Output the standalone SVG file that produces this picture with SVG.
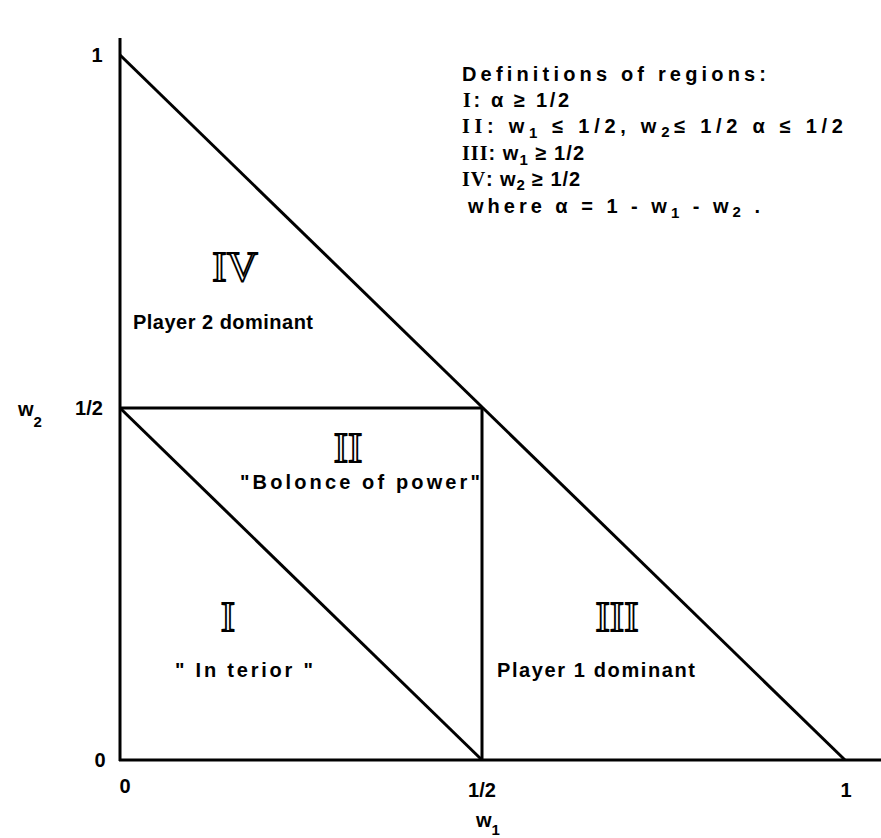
<svg xmlns="http://www.w3.org/2000/svg" width="881" height="838" viewBox="0 0 881 838">
<style>
.ln{stroke:#000;stroke-width:3;fill:none;stroke-linecap:butt}
.t{font-family:"Liberation Sans",Arial,sans-serif;font-weight:bold;font-size:20px;fill:#000}
.lg{font-family:"Liberation Sans",Arial,sans-serif;font-weight:bold;font-size:20px;fill:#000}
.rn{font-family:"Liberation Serif","Times New Roman",serif;font-weight:bold}
.big{font-family:"Liberation Serif","Times New Roman",serif;font-size:43px;fill:#fff;stroke:#000;stroke-width:1.8;text-anchor:middle}
.sub{font-size:15px}
</style>
<rect width="881" height="838" fill="#fff"/>
<g id="connectors">
<line class="ln" x1="120" y1="38" x2="120" y2="761"/>
<line class="ln" x1="119" y1="760" x2="881" y2="760"/>
<line class="ln" x1="120" y1="55" x2="845" y2="760"/>
<line class="ln" x1="120" y1="408" x2="482" y2="408"/>
<line class="ln" x1="482" y1="408" x2="482" y2="760"/>
<line class="ln" x1="120" y1="408" x2="482" y2="760"/>
</g>
<g id="axis-labels">
<text class="t" x="97" y="62" text-anchor="middle">1</text>
<text class="t" x="18" y="416">w<tspan class="sub" dy="11">2</tspan></text>
<text class="t" x="89" y="415" text-anchor="middle">1/2</text>
<text class="t" x="100" y="767" text-anchor="middle">0</text>
<text class="t" x="125" y="793" text-anchor="middle">0</text>
<text class="t" x="482" y="797" text-anchor="middle">1/2</text>
<text class="t" x="846" y="797" text-anchor="middle">1</text>
<text class="t" x="476" y="827">w<tspan class="sub" dy="8">1</tspan></text>
</g>
<g id="legend">
<text class="lg" x="462" y="81" textLength="304" lengthAdjust="spacing">Definitions of regions:</text>
<text class="lg" x="463" y="107" textLength="106" lengthAdjust="spacing"><tspan class="rn">I</tspan>:  α ≥ 1/2</text>
<text class="lg" x="462" y="133" textLength="381" lengthAdjust="spacing"><tspan class="rn">II</tspan>:  w<tspan class="sub" dy="5">1</tspan><tspan dy="-5"> ≤ 1/2, w</tspan><tspan class="sub" dy="4">2</tspan><tspan dy="-4">≤ 1/2  α ≤ 1/2</tspan></text>
<text class="lg" x="462" y="160" textLength="122" lengthAdjust="spacing"><tspan class="rn">III</tspan>:  w<tspan class="sub" dy="5">1</tspan><tspan dy="-5">  ≥ 1/2</tspan></text>
<text class="lg" x="462" y="186" textLength="118" lengthAdjust="spacing"><tspan class="rn">IV</tspan>: w<tspan class="sub" dy="4">2</tspan><tspan dy="-4"> ≥ 1/2</tspan></text>
<text class="lg" x="468" y="213" textLength="292" lengthAdjust="spacing">where α = 1 - w<tspan class="sub" dy="5">1</tspan><tspan dy="-5"> - w</tspan><tspan class="sub" dy="4">2</tspan><tspan dy="-4"> .</tspan></text>
</g>
<g id="region-IV">
<text class="big" x="235" y="281">IV</text>
<text class="t" x="133" y="329" textLength="180" lengthAdjust="spacing">Player 2 dominant</text>
</g>
<g id="region-II">
<text class="big" x="348" y="462">II</text>
<text class="t" x="240" y="489" textLength="240" lengthAdjust="spacing">"Bolonce of power"</text>
</g>
<g id="region-I">
<text class="big" x="228" y="631">I</text>
<text class="t" x="175" y="677" textLength="138" lengthAdjust="spacing">" In terior "</text>
</g>
<g id="region-III">
<text class="big" x="617" y="631">III</text>
<text class="t" x="497" y="677" textLength="198" lengthAdjust="spacing">Player 1 dominant</text>
</g>
</svg>
